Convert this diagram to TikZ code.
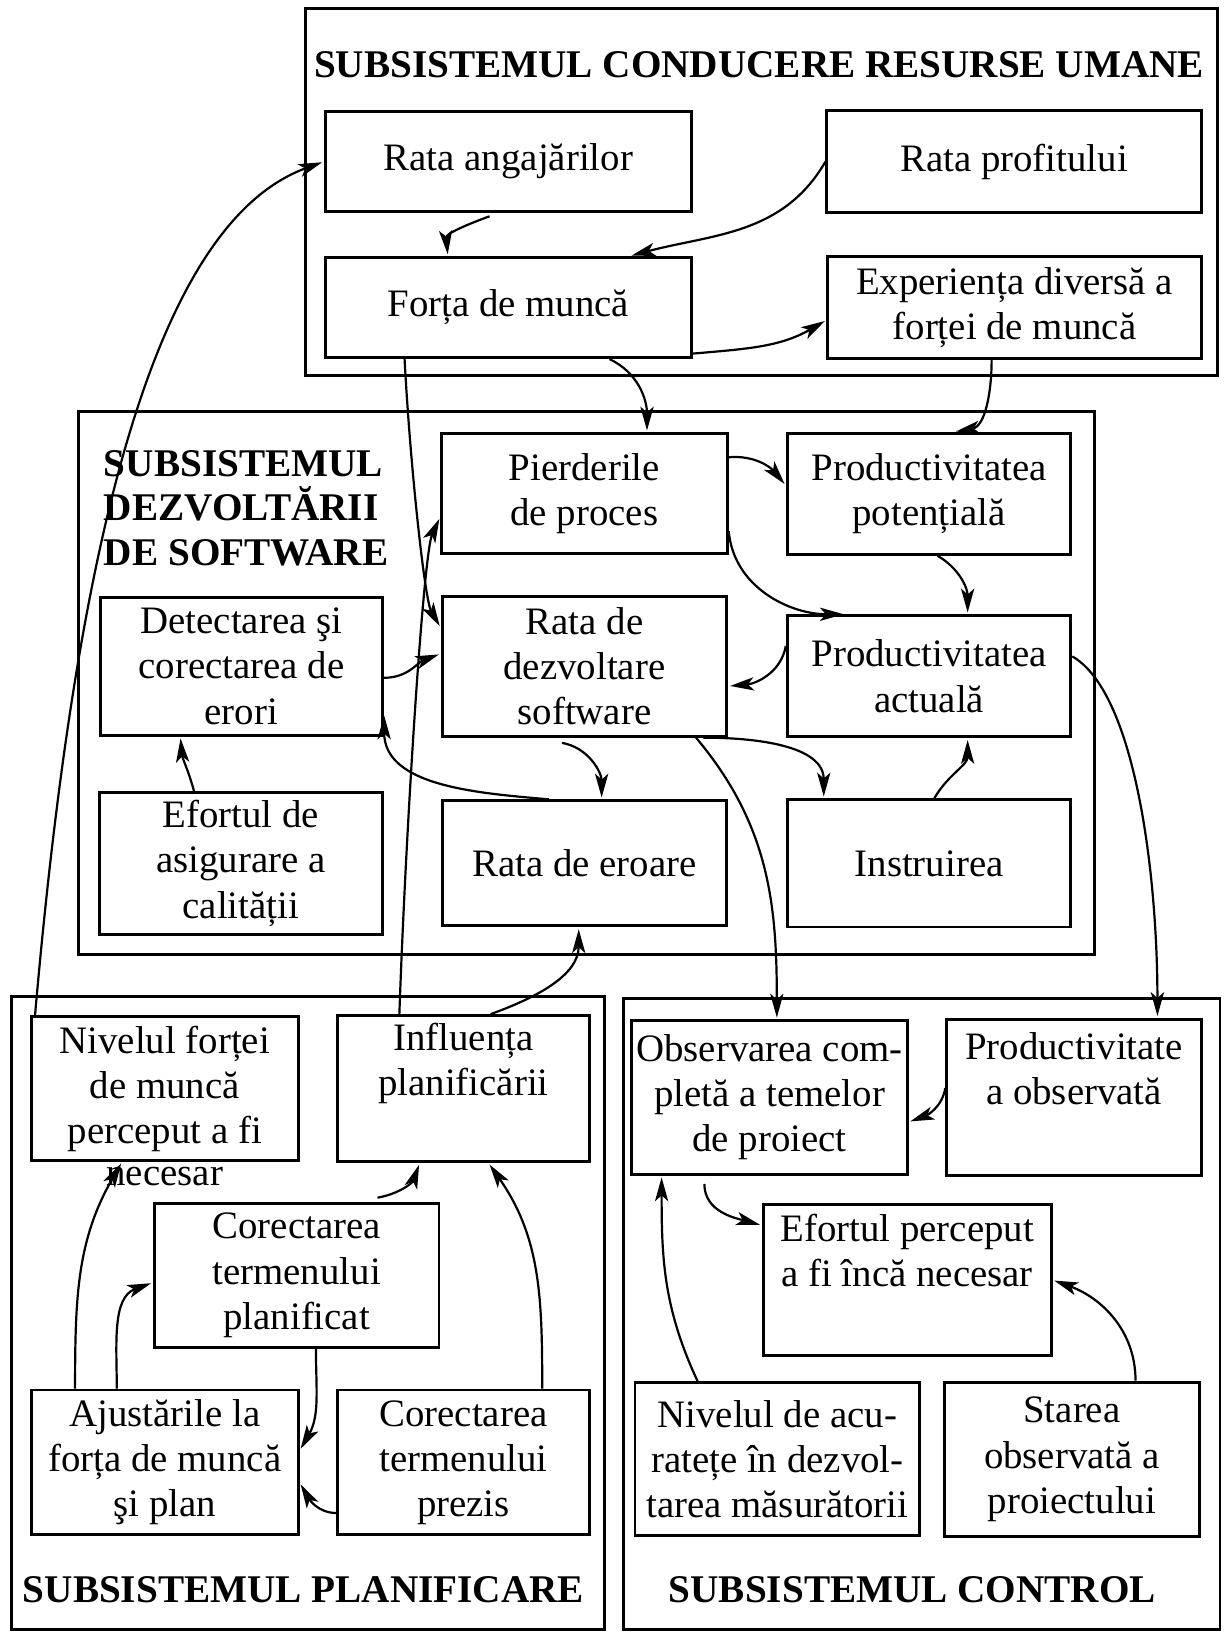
\documentclass[tikz,border=0pt]{standalone}
\usepackage{fontspec}
\setmainfont{Liberation Serif}
\usetikzlibrary{positioning, calc, arrows.meta}

\begin{document}
\begin{tikzpicture}[x=.1mm, y=-.1mm, on grid, shorten >=.5pt,
    >={Stealth[length=6.5pt, width=3.6pt, inset=1.6pt]},
    txt/.style={font=\fontsize{10.6}{12.3}\selectfont},
    block/.style={txt, draw, line width=.8pt, align=center, inner sep=0pt},
    frame/.style={draw, line width=.8pt},
    heading/.style={inner sep=0pt, font=\fontsize{10.7}{12.2}\selectfont\bfseries},
    flow/.style={->, line width=.6pt}]
    \useasboundingbox (0,0) rectangle (1174,1568);

    \draw[frame] (293,8) rectangle (1168,360);
    \node[heading] (tumane) at (728,62) {SUBSISTEMUL CONDUCERE RESURSE UMANE};
    \node[block, minimum width=35.1mm, minimum height=9.6mm] (angaj) at (487.5,155) {Rata angajărilor};
    \node[block, minimum width=35.9mm, minimum height=9.8mm] (profit) [right=4.85cm of angaj] {Rata profitului};
    \node[block, minimum width=35.1mm, minimum height=9.6mm] (forta) [below=1.4cm of angaj] {Forța de muncă};
    \node[block, minimum width=35.8mm, minimum height=9.8mm] (exper) [right=4.855cm of forta] {Experiența diversă a\\forței de muncă};

    \draw[frame] (75,395) rectangle (1050,915);
    \node[heading, align=left, anchor=north west] (tsoft) at (99,431) {SUBSISTEMUL\\DEZVOLTĂRII\\DE SOFTWARE};
    \node[block, minimum width=27.4mm, minimum height=11.5mm] (pierd) at (560.5,473.5) {Pierderile\\de proces};
    \node[block, minimum width=27.2mm, minimum height=11.6mm] (potent) [right=3.305cm of pierd] {Productivitatea\\potențială};
    \node[block, minimum width=27.3mm, minimum height=13.4mm] (dezv) [below=1.655cm of pierd] {Rata de\\dezvoltare\\software};
    \node[block, minimum width=27.1mm, minimum height=13.2mm] (detect) [left=3.29cm of dezv] {Detectarea şi\\corectarea de\\erori};
    \node[block, minimum width=27.2mm, minimum height=11.6mm] (actual) [below=1.75cm of potent] {Productivitatea\\actuală};
    \node[block, minimum width=27.3mm, minimum height=12mm] (eroare) [below=1.89cm of dezv] {Rata de eroare};
    \node[block, minimum width=27.2mm, minimum height=12.2mm] (instr) [right=3.305cm of eroare] {Instruirea};
    \node[block, minimum width=27.1mm, minimum height=13.6mm] (efort) [left=3.295cm of eroare] {Efortul de\\asigurare a\\calității};

    \draw[frame] (11,956) rectangle (580,1563);
    \node[block, minimum width=25.6mm, minimum height=13.8mm,
        label={[name=necesar, txt, inner sep=0pt, label distance=.4mm]below:necesar}] (nivel) at (158,1044) {Nivelul forței\\de muncă\\perceput a fi};
    \node[block, minimum width=24.1mm, minimum height=14mm] (infl) [right=2.865cm of nivel] {Influența\\planificării\\\strut};
    \node[block, minimum width=27.3mm, minimum height=13.8mm] (plan) at (284.5,1223) {Corectarea\\termenului\\planificat};
    \node[block, minimum width=25.6mm, minimum height=13.9mm] (ajust) [below=3.585cm of nivel] {Ajustările la\\forța de muncă\\şi plan};
    \node[block, minimum width=24.1mm, minimum height=13.9mm] (prezis) [right=2.865cm of ajust] {Corectarea\\termenului\\prezis};
    \node[heading] (tplan) at (291,1525) {SUBSISTEMUL PLANIFICARE};

    \draw[frame] (598,958) rectangle (1170,1563);
    \node[block, minimum width=26.4mm, minimum height=14.7mm] (observ) at (738,1052.5) {Observarea com-\\pletă a temelor\\de proiect};
    \node[block, minimum width=24.4mm, minimum height=15mm] (prodobs) [right=2.92cm of observ] {Productivitate\\a observată\\\strut};
    \node[block, minimum width=27.6mm, minimum height=14.5mm] (percep) at (870,1227.5) {Efortul perceput\\a fi încă necesar\\\strut};
    \node[block, minimum width=27.3mm, minimum height=14.7mm] (acur) at (745.5,1399.5) {Nivelul de acu-\\ratețe în dezvol-\\tarea măsurătorii};
    \node[block, minimum width=24.4mm, minimum height=14.8mm] (starea) [right=2.825cm of acur] {Starea\\observată a\\proiectului};
    \node[heading] (tctrl) at (875,1525) {SUBSISTEMUL CONTROL};

    \path[flow]
    ($(angaj.south)+(-18,3)$) edge [out=200, in=95] ($(forta.north)+(-58,0)$)
    (profit.west) edge [out=-120, in=15] (forta.23)
    (forta.-14) edge [out=5, in=210] ($(exper.west)+(0,12)$)
    ($(forta.south)+(-99.5,0)$) edge [out=-87, in=120, in looseness=.3] ($(dezv.west)+(0,-37)$)
    ($(forta.south)+(97,0)$) edge [out=-25, in=90] ($(pierd.north)+(60,0)$)
    ($(exper.south)+(-22,0)$) edge [out=-90, in=10] ($(potent.north)+(24,0)$)
    ($(pierd.east)+(0,-35)$) edge [out=5, in=130] ($(potent.west)+(0,-8)$)
    ($(pierd.east)+(0,36)$) edge [out=-85, in=180] ($(actual.north)+(-80,0)$)
    ($(potent.south)+(8,0)$) edge [out=-30, in=90] ($(actual.north)+(37,0)$)
    ($(actual.west)+(0,-29)$) edge [out=-100, in=5] ($(dezv.east)+(0,19)$)
    ($(detect.east)+(0,11)$) edge [out=0, in=200] ($(dezv.west)+(0,-12)$)
    ($(efort.north)+(-45,0)$) edge [out=105, in=-85] ($(detect.south)+(-58.5,0)$)
    ($(eroare.north)+(-34,0)$) edge [out=175, in=-90] ($(detect.south east)+(0,-22)$)
    ($(dezv.south)+(-21.5,5)$) edge [out=-10, in=90] ($(eroare.north)+(16.5,0)$)
    ($(dezv.south)+(113.5,0)$) edge [out=0, in=90] ($(instr.north)+(-101,0)$)
    ($(instr.north)+(5,0)$) edge [out=60, in=-90] ($(actual.south)+(37,0)$)
    ($(dezv.south)+(107,0)$) edge [out=-50, in=90] ($(observ.north)+(7,0)$)
    ($(actual.east)+(0,-19)$) edge [out=-30, in=90, out looseness=.5] ($(prodobs.north)+(80,0)$)
    ($(nivel.north west)+(5,0)$) edge [out=85, in=200, out looseness=1.2, in looseness=.55] (angaj.west)
    ($(infl.north)+(-61.5,0)$) edge [out=88, in=-115, in looseness=.2] ($(pierd.west)+(0,22.5)$)
    ($(infl.north)+(26,0)$) edge [out=20, in=-90] ($(eroare.south)+(-5.5,0)$)
    ($(plan.north)+(77.5,-4)$) edge [out=10, in=-110] ($(infl.south)+(-42,0)$)
    ($(prezis.north)+(75.5,0)$) edge [out=90, in=-55] ($(infl.south)+(24,0)$)
    ($(ajust.north)+(-86,0)$) edge [out=90, in=-120] ($(nivel.south)+(-41,0)$)
    ($(ajust.north)+(-46,0)$) edge [out=90, in=200] ($(plan.west)+(0,7)$)
    ($(plan.south)+(18.5,0)$) edge [out=-90, in=60] ($(ajust.east)+(0,-11.5)$)
    ($(prezis.west)+(0,48.5)$) edge [out=180, in=-60] ($(ajust.east)+(0,19.5)$)
    ($(prodobs.west)+(0,-9)$) edge [out=-100, in=20] ($(observ.east)+(0,23.5)$)
    ($(observ.south)+(-62.5,8)$) edge [out=-90, in=165] ($(percep.west)+(0,-52.5)$)
    ($(acur.north)+(-76.5,0)$) edge [out=115, in=-90] ($(observ.south)+(-103.5,0)$)
    ($(starea.north)+(61,0)$) edge [out=90, in=-20] (percep.east)
    ;
\end{tikzpicture}
\end{document}
